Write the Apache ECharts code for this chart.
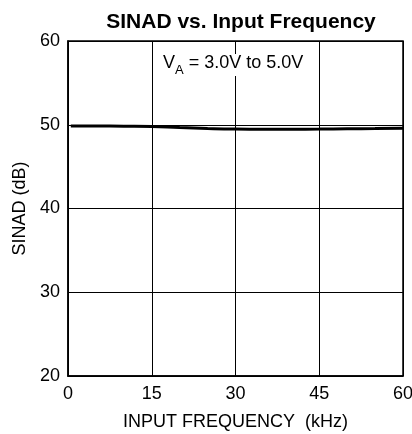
<!DOCTYPE html>
<html>
<head>
<meta charset="utf-8">
<script src="https://cdn.jsdelivr.net/npm/echarts@6/dist/echarts.min.js"></script>
<style>
  html, body { margin: 0; padding: 0; background: #fff; }
  #chart { width: 412px; height: 434px; }
</style>
</head>
<body>
<div id="chart"></div>
<script>
// SINAD measured across the input frequency range
const freqKHz = [0.5, 5, 10, 15, 20, 25, 30, 35, 40, 45, 50, 55, 60];
const sinadDb = [49.85, 49.85, 49.83, 49.8, 49.66, 49.55, 49.48, 49.46, 49.46, 49.48, 49.52, 49.55, 49.58];
const xTicks = [0, 15, 30, 45, 60];
const yTicks = [20, 30, 40, 50, 60];

const font = '"Liberation Sans", Arial, Helvetica, sans-serif';
const chart = echarts.init(document.getElementById('chart'), null, { renderer: 'canvas' });

chart.setOption({
  animation: false,
  title: {
    text: 'SINAD vs. Input Frequency',
    left: 236, top: 7, textAlign: 'center',
    textStyle: { fontFamily: font, fontSize: 21, fontWeight: 'bold', color: '#000' }
  },
  grid: { left: 68, right: 9, top: 41, bottom: 58, outerBoundsMode: 'none', containLabel: false },
  xAxis: {
    type: 'value',
    min: xTicks[0], max: xTicks[xTicks.length - 1], interval: 15,
    name: 'INPUT FREQUENCY  (kHz)', nameLocation: 'middle', nameGap: 37,
    nameTextStyle: { fontFamily: font, fontSize: 18, color: '#000', verticalAlign: 'top' },
    axisLine: { show: true, lineStyle: { color: '#000', width: 1.5 } },
    axisTick: { show: false },
    axisLabel: { fontFamily: font, fontSize: 18, color: '#000', margin: 9 },
    splitLine: { show: true, lineStyle: { color: '#000', width: 1 } }
  },
  yAxis: {
    type: 'value',
    min: yTicks[0], max: yTicks[yTicks.length - 1], interval: 10,
    name: 'SINAD (dB)', nameLocation: 'middle', nameGap: 36, nameRotate: 90,
    nameTextStyle: { fontFamily: font, fontSize: 18, color: '#000' },
    axisLine: { show: true, lineStyle: { color: '#000', width: 1.5 } },
    axisTick: { show: false },
    axisLabel: { fontFamily: font, fontSize: 18, color: '#000', margin: 8 },
    splitLine: { show: true, lineStyle: { color: '#000', width: 1 } }
  },
  graphic: [
    // outer frame (top and right edges)
    {
      type: 'rect', shape: { x: 68, y: 41, width: 335, height: 335 },
      style: { fill: 'none', stroke: '#000', lineWidth: 1.5 }, z: 10, silent: true
    },
    {
      type: 'text', left: 163, top: 53, z: 20,
      style: {
        text: '{v|V}{s|A}{v| = 3.0V to 5.0V}',
        rich: {
          v: { fontFamily: font, fontSize: 18, color: '#000', lineHeight: 22, verticalAlign: 'top' },
          s: { fontFamily: font, fontSize: 13, color: '#000', lineHeight: 22, padding: [11, 0, 0, 0] }
        },
        backgroundColor: '#fff'
      }
    }
  ],
  series: [{
    type: 'line',
    data: freqKHz.map((f, i) => [f, sinadDb[i]]),
    symbol: 'none', smooth: true,
    lineStyle: { color: '#000', width: 3 },
    z: 5
  }]
});
</script>
</body>
</html>
